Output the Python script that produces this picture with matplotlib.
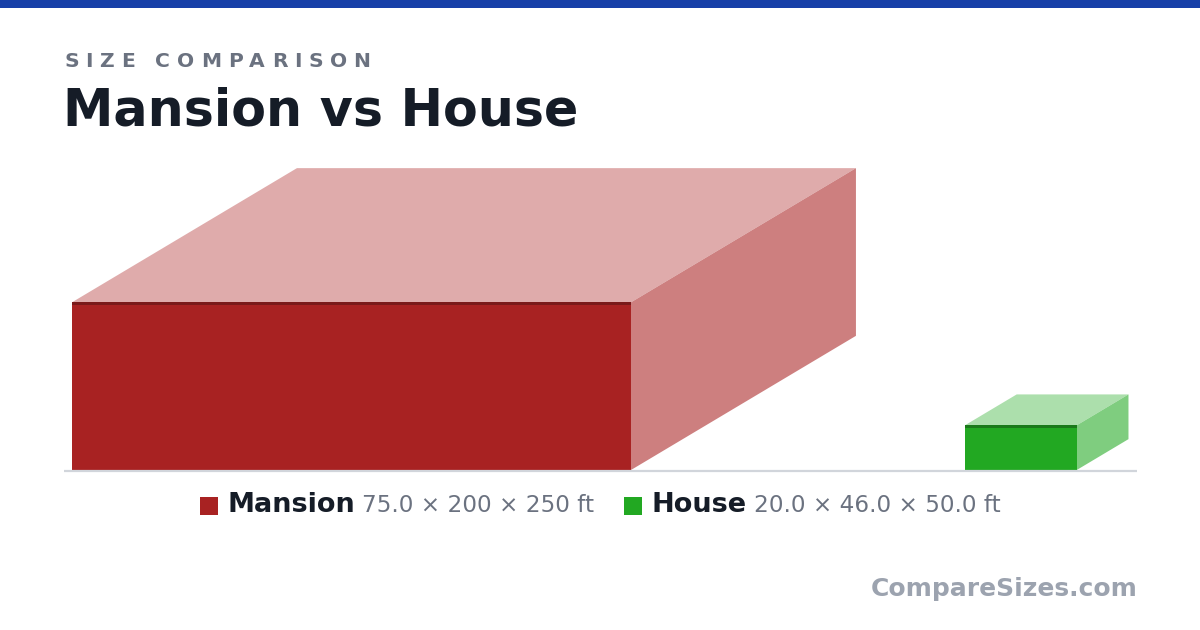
"""Mansion vs House size comparison"""
import matplotlib
matplotlib.use('Agg')
import matplotlib.pyplot as plt
from matplotlib.patches import Polygon, Rectangle

# data: height, depth, width in feet
names = ['Mansion', 'House']
heights = [75.0, 20.0]
depths = [200.0, 46.0]
widths = [250.0, 50.0]
dim_labels = ['75.0 × 200 × 250 ft', '20.0 × 46.0 × 50.0 ft']

front_colors = ['#a82222', '#22a822']
top_colors = ['#dfabab', '#acdfac']
side_colors = ['#cd7f7f', '#7fcd7f']
edge_colors = ['#7a1a1a', '#1a7a1a']

W, H = 1200, 630
scale = 2.236        # px per ft
ground = 470
box_left = 72
gap = 109
dx_k, dy_k = 0.503, 0.3

fig = plt.figure(figsize=(W / 100, H / 100), dpi=100)
ax = fig.add_axes([0, 0, 1, 1])
ax.set_xlim(0, W)
ax.set_ylim(H, 0)
ax.axis('off')

# top bar
ax.add_patch(Rectangle((0, 0), W, 8, color='#1740a8', lw=0))

# subtitle with letter spacing
renderer = fig.canvas.get_renderer()
x = 64
for ch in 'SIZE COMPARISON':
    t = ax.text(x, 67, ch, fontsize=14.6, fontweight='bold', color='#6b7280',
                va='baseline', ha='left')
    w = t.get_window_extent(renderer).width if ch != ' ' else 7.0
    x += w + 6.75

ax.text(63, 126, 'Mansion vs House', fontsize=36.5, fontweight='bold',
        color='#151c27', va='baseline', ha='left')

# boxes
x0 = box_left
for i in range(len(names)):
    w = widths[i] * scale
    h = heights[i] * scale
    dx = depths[i] * scale * dx_k
    dy = depths[i] * scale * dy_k
    top = ground - h
    ax.add_patch(Polygon([(x0, top), (x0 + w, top), (x0 + w + dx, top - dy), (x0 + dx, top - dy)],
                         closed=True, facecolor=top_colors[i], lw=0))
    ax.add_patch(Polygon([(x0 + w, top), (x0 + w, ground), (x0 + w + dx, ground - dy), (x0 + w + dx, top - dy)],
                         closed=True, facecolor=side_colors[i], lw=0))
    ax.add_patch(Rectangle((x0, top), w, h, facecolor=front_colors[i], lw=0))
    ax.add_patch(Rectangle((x0, top), w, 3, facecolor=edge_colors[i], lw=0))
    x0 = x0 + w + dx + gap

# ground line
ax.plot([64, 1137], [471, 471], color='#d1d5db', lw=1.6, solid_capstyle='butt')

# legend, centred
parts = []
for i in range(len(names)):
    parts.append(('sq', front_colors[i]))
    parts.append(('name', names[i]))
    parts.append(('dim', dim_labels[i]))

items = []
total = 0
for kind, val in parts:
    if kind == 'sq':
        wpx, gap_after = 18, 10
        items.append((kind, val, wpx, gap_after))
    else:
        if kind == 'name':
            t = ax.text(0, 512, val, fontsize=19.5, fontweight='bold', color='#151c27', va='baseline')
            gap_after = 7
        else:
            t = ax.text(0, 512, val, fontsize=16.7, color='#6b7280', va='baseline')
            gap_after = 29
        wpx = t.get_window_extent(renderer).width
        items.append((t, val, wpx, gap_after))
    total += wpx + gap_after
total -= items[-1][3]

x = W / 2 - total / 2
for obj, val, wpx, gap_after in items:
    if obj == 'sq':
        ax.add_patch(Rectangle((x, 497), 18, 18, facecolor=val, lw=0))
    else:
        obj.set_x(x)
    x += wpx + gap_after

ax.text(1138, 596, 'CompareSizes.com', fontsize=18, fontweight='bold',
        color='#9ca3af', ha='right', va='baseline')

fig.savefig('out.png', dpi=100)
plt.close()
